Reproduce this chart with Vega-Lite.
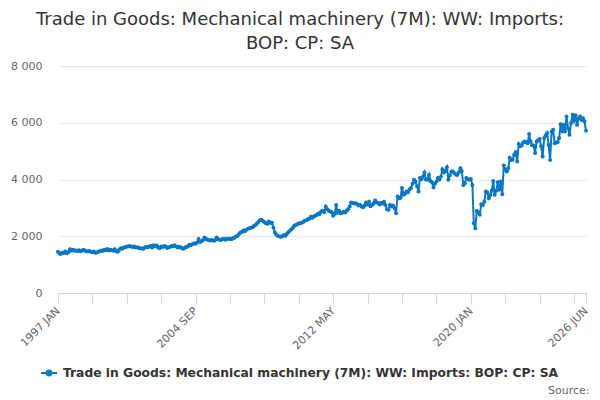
{
  "$schema": "https://vega.github.io/schema/vega-lite/v6.json",
  "description": "Trade in Goods: Mechanical machinery (7M): WW: Imports: BOP: CP: SA, monthly",
  "autosize": {"type": "none"},
  "width": 528,
  "height": 227,
  "padding": {"left": 58, "top": 66, "right": 14, "bottom": 107},
  "background": "#ffffff",
  "config": {
    "font": "DejaVu Sans",
    "view": {"stroke": null}
  },
  "title": {
    "text": ["Trade in Goods: Mechanical machinery (7M): WW: Imports:", "BOP: CP: SA"],
    "fontSize": 18,
    "fontWeight": "normal",
    "color": "#333333",
    "lineHeight": 24,
    "anchor": "middle",
    "frame": "group",
    "dx": -22,
    "offset": 7
  },
  "data": {
    "values": [
      {"d": "1997-01", "v": 1450}, {"d": "1997-02", "v": 1390}, {"d": "1997-03", "v": 1380}, {"d": "1997-04", "v": 1430},
      {"d": "1997-05", "v": 1410}, {"d": "1997-06", "v": 1460}, {"d": "1997-07", "v": 1400}, {"d": "1997-08", "v": 1440},
      {"d": "1997-09", "v": 1540}, {"d": "1997-10", "v": 1500}, {"d": "1997-11", "v": 1520}, {"d": "1997-12", "v": 1490},
      {"d": "1998-01", "v": 1500}, {"d": "1998-02", "v": 1480}, {"d": "1998-03", "v": 1510}, {"d": "1998-04", "v": 1470},
      {"d": "1998-05", "v": 1490}, {"d": "1998-06", "v": 1520}, {"d": "1998-07", "v": 1500}, {"d": "1998-08", "v": 1470},
      {"d": "1998-09", "v": 1460}, {"d": "1998-10", "v": 1480}, {"d": "1998-11", "v": 1450}, {"d": "1998-12", "v": 1440},
      {"d": "1999-01", "v": 1460}, {"d": "1999-02", "v": 1420}, {"d": "1999-03", "v": 1430}, {"d": "1999-04", "v": 1450},
      {"d": "1999-05", "v": 1470}, {"d": "1999-06", "v": 1500}, {"d": "1999-07", "v": 1480}, {"d": "1999-08", "v": 1520},
      {"d": "1999-09", "v": 1510}, {"d": "1999-10", "v": 1550}, {"d": "1999-11", "v": 1500}, {"d": "1999-12", "v": 1520},
      {"d": "2000-01", "v": 1510}, {"d": "2000-02", "v": 1490}, {"d": "2000-03", "v": 1540}, {"d": "2000-04", "v": 1470},
      {"d": "2000-05", "v": 1450}, {"d": "2000-06", "v": 1520}, {"d": "2000-07", "v": 1580}, {"d": "2000-08", "v": 1560},
      {"d": "2000-09", "v": 1600}, {"d": "2000-10", "v": 1610}, {"d": "2000-11", "v": 1630}, {"d": "2000-12", "v": 1650},
      {"d": "2001-01", "v": 1650}, {"d": "2001-02", "v": 1640}, {"d": "2001-03", "v": 1620}, {"d": "2001-04", "v": 1640},
      {"d": "2001-05", "v": 1600}, {"d": "2001-06", "v": 1610}, {"d": "2001-07", "v": 1590}, {"d": "2001-08", "v": 1580},
      {"d": "2001-09", "v": 1570}, {"d": "2001-10", "v": 1560}, {"d": "2001-11", "v": 1600}, {"d": "2001-12", "v": 1620},
      {"d": "2002-01", "v": 1610}, {"d": "2002-02", "v": 1640}, {"d": "2002-03", "v": 1660}, {"d": "2002-04", "v": 1600},
      {"d": "2002-05", "v": 1680}, {"d": "2002-06", "v": 1650}, {"d": "2002-07", "v": 1670}, {"d": "2002-08", "v": 1600},
      {"d": "2002-09", "v": 1580}, {"d": "2002-10", "v": 1640}, {"d": "2002-11", "v": 1620}, {"d": "2002-12", "v": 1660},
      {"d": "2003-01", "v": 1640}, {"d": "2003-02", "v": 1590}, {"d": "2003-03", "v": 1610}, {"d": "2003-04", "v": 1620},
      {"d": "2003-05", "v": 1660}, {"d": "2003-06", "v": 1650}, {"d": "2003-07", "v": 1680}, {"d": "2003-08", "v": 1640},
      {"d": "2003-09", "v": 1600}, {"d": "2003-10", "v": 1630}, {"d": "2003-11", "v": 1600}, {"d": "2003-12", "v": 1580},
      {"d": "2004-01", "v": 1560}, {"d": "2004-02", "v": 1600}, {"d": "2004-03", "v": 1620}, {"d": "2004-04", "v": 1660},
      {"d": "2004-05", "v": 1700}, {"d": "2004-06", "v": 1690}, {"d": "2004-07", "v": 1720}, {"d": "2004-08", "v": 1750},
      {"d": "2004-09", "v": 1740}, {"d": "2004-10", "v": 1780}, {"d": "2004-11", "v": 1900}, {"d": "2004-12", "v": 1800},
      {"d": "2005-01", "v": 1820}, {"d": "2005-02", "v": 1870}, {"d": "2005-03", "v": 1960}, {"d": "2005-04", "v": 1900},
      {"d": "2005-05", "v": 1880}, {"d": "2005-06", "v": 1860}, {"d": "2005-07", "v": 1850}, {"d": "2005-08", "v": 1870},
      {"d": "2005-09", "v": 1840}, {"d": "2005-10", "v": 1860}, {"d": "2005-11", "v": 1960}, {"d": "2005-12", "v": 1900},
      {"d": "2006-01", "v": 1880}, {"d": "2006-02", "v": 1870}, {"d": "2006-03", "v": 1900}, {"d": "2006-04", "v": 1910},
      {"d": "2006-05", "v": 1880}, {"d": "2006-06", "v": 1900}, {"d": "2006-07", "v": 1920}, {"d": "2006-08", "v": 1900},
      {"d": "2006-09", "v": 1890}, {"d": "2006-10", "v": 1940}, {"d": "2006-11", "v": 1950}, {"d": "2006-12", "v": 1990},
      {"d": "2007-01", "v": 2010}, {"d": "2007-02", "v": 2080}, {"d": "2007-03", "v": 2130}, {"d": "2007-04", "v": 2150},
      {"d": "2007-05", "v": 2200}, {"d": "2007-06", "v": 2180}, {"d": "2007-07", "v": 2230}, {"d": "2007-08", "v": 2260},
      {"d": "2007-09", "v": 2280}, {"d": "2007-10", "v": 2300}, {"d": "2007-11", "v": 2320}, {"d": "2007-12", "v": 2360},
      {"d": "2008-01", "v": 2400}, {"d": "2008-02", "v": 2450}, {"d": "2008-03", "v": 2500}, {"d": "2008-04", "v": 2560},
      {"d": "2008-05", "v": 2580}, {"d": "2008-06", "v": 2540}, {"d": "2008-07", "v": 2500}, {"d": "2008-08", "v": 2460},
      {"d": "2008-09", "v": 2440}, {"d": "2008-10", "v": 2520}, {"d": "2008-11", "v": 2470}, {"d": "2008-12", "v": 2480},
      {"d": "2009-01", "v": 2300}, {"d": "2009-02", "v": 2130}, {"d": "2009-03", "v": 2050}, {"d": "2009-04", "v": 2010},
      {"d": "2009-05", "v": 1990}, {"d": "2009-06", "v": 1980}, {"d": "2009-07", "v": 2000}, {"d": "2009-08", "v": 2040},
      {"d": "2009-09", "v": 2020}, {"d": "2009-10", "v": 2080}, {"d": "2009-11", "v": 2150}, {"d": "2009-12", "v": 2190},
      {"d": "2010-01", "v": 2250}, {"d": "2010-02", "v": 2300}, {"d": "2010-03", "v": 2370}, {"d": "2010-04", "v": 2400},
      {"d": "2010-05", "v": 2420}, {"d": "2010-06", "v": 2450}, {"d": "2010-07", "v": 2460}, {"d": "2010-08", "v": 2480},
      {"d": "2010-09", "v": 2500}, {"d": "2010-10", "v": 2550}, {"d": "2010-11", "v": 2560}, {"d": "2010-12", "v": 2600},
      {"d": "2011-01", "v": 2620}, {"d": "2011-02", "v": 2690}, {"d": "2011-03", "v": 2650}, {"d": "2011-04", "v": 2700},
      {"d": "2011-05", "v": 2720}, {"d": "2011-06", "v": 2750}, {"d": "2011-07", "v": 2800}, {"d": "2011-08", "v": 2780},
      {"d": "2011-09", "v": 2870}, {"d": "2011-10", "v": 2900}, {"d": "2011-11", "v": 2850}, {"d": "2011-12", "v": 3050},
      {"d": "2012-01", "v": 2950}, {"d": "2012-02", "v": 2900}, {"d": "2012-03", "v": 2870}, {"d": "2012-04", "v": 2850},
      {"d": "2012-05", "v": 2720}, {"d": "2012-06", "v": 2780}, {"d": "2012-07", "v": 3100}, {"d": "2012-08", "v": 2830},
      {"d": "2012-09", "v": 2900}, {"d": "2012-10", "v": 2810}, {"d": "2012-11", "v": 2830}, {"d": "2012-12", "v": 2860},
      {"d": "2013-01", "v": 2840}, {"d": "2013-02", "v": 2900}, {"d": "2013-03", "v": 2950}, {"d": "2013-04", "v": 3050},
      {"d": "2013-05", "v": 3190}, {"d": "2013-06", "v": 3170}, {"d": "2013-07", "v": 3150}, {"d": "2013-08", "v": 3160},
      {"d": "2013-09", "v": 3140}, {"d": "2013-10", "v": 3080}, {"d": "2013-11", "v": 3100}, {"d": "2013-12", "v": 3050},
      {"d": "2014-01", "v": 3020}, {"d": "2014-02", "v": 3080}, {"d": "2014-03", "v": 3190}, {"d": "2014-04", "v": 3120},
      {"d": "2014-05", "v": 3220}, {"d": "2014-06", "v": 3060}, {"d": "2014-07", "v": 3100}, {"d": "2014-08", "v": 3150},
      {"d": "2014-09", "v": 3260}, {"d": "2014-10", "v": 3200}, {"d": "2014-11", "v": 3170}, {"d": "2014-12", "v": 3120},
      {"d": "2015-01", "v": 3180}, {"d": "2015-02", "v": 3150}, {"d": "2015-03", "v": 3220}, {"d": "2015-04", "v": 3100},
      {"d": "2015-05", "v": 2950}, {"d": "2015-06", "v": 2930}, {"d": "2015-07", "v": 3100}, {"d": "2015-08", "v": 3050},
      {"d": "2015-09", "v": 3080}, {"d": "2015-10", "v": 3000}, {"d": "2015-11", "v": 2810}, {"d": "2015-12", "v": 3400},
      {"d": "2016-01", "v": 3340}, {"d": "2016-02", "v": 3360}, {"d": "2016-03", "v": 3700}, {"d": "2016-04", "v": 3460},
      {"d": "2016-05", "v": 3500}, {"d": "2016-06", "v": 3580}, {"d": "2016-07", "v": 3550}, {"d": "2016-08", "v": 3650},
      {"d": "2016-09", "v": 3700}, {"d": "2016-10", "v": 3850}, {"d": "2016-11", "v": 3990}, {"d": "2016-12", "v": 3920},
      {"d": "2017-01", "v": 3760}, {"d": "2017-02", "v": 3580}, {"d": "2017-03", "v": 4050}, {"d": "2017-04", "v": 4010},
      {"d": "2017-05", "v": 4100}, {"d": "2017-06", "v": 4250}, {"d": "2017-07", "v": 4000}, {"d": "2017-08", "v": 3990},
      {"d": "2017-09", "v": 4170}, {"d": "2017-10", "v": 3950}, {"d": "2017-11", "v": 3900}, {"d": "2017-12", "v": 3730},
      {"d": "2018-01", "v": 3850}, {"d": "2018-02", "v": 3930}, {"d": "2018-03", "v": 4050}, {"d": "2018-04", "v": 4000},
      {"d": "2018-05", "v": 4100}, {"d": "2018-06", "v": 4360}, {"d": "2018-07", "v": 4250}, {"d": "2018-08", "v": 4300},
      {"d": "2018-09", "v": 4430}, {"d": "2018-10", "v": 3990}, {"d": "2018-11", "v": 4150}, {"d": "2018-12", "v": 4280},
      {"d": "2019-01", "v": 4280}, {"d": "2019-02", "v": 4220}, {"d": "2019-03", "v": 4180}, {"d": "2019-04", "v": 4160},
      {"d": "2019-05", "v": 4250}, {"d": "2019-06", "v": 4400}, {"d": "2019-07", "v": 4300}, {"d": "2019-08", "v": 3810},
      {"d": "2019-09", "v": 3870}, {"d": "2019-10", "v": 4050}, {"d": "2019-11", "v": 4010}, {"d": "2019-12", "v": 3990},
      {"d": "2020-01", "v": 4020}, {"d": "2020-02", "v": 3810}, {"d": "2020-03", "v": 2460}, {"d": "2020-04", "v": 2280},
      {"d": "2020-05", "v": 2890}, {"d": "2020-06", "v": 2850}, {"d": "2020-07", "v": 2770}, {"d": "2020-08", "v": 3130},
      {"d": "2020-09", "v": 3100}, {"d": "2020-10", "v": 3220}, {"d": "2020-11", "v": 3580}, {"d": "2020-12", "v": 3540},
      {"d": "2021-01", "v": 3340}, {"d": "2021-02", "v": 3450}, {"d": "2021-03", "v": 3600}, {"d": "2021-04", "v": 3950},
      {"d": "2021-05", "v": 3460}, {"d": "2021-06", "v": 3600}, {"d": "2021-07", "v": 3900}, {"d": "2021-08", "v": 3640},
      {"d": "2021-09", "v": 3930}, {"d": "2021-10", "v": 3480}, {"d": "2021-11", "v": 4490}, {"d": "2021-12", "v": 4350},
      {"d": "2022-01", "v": 4280}, {"d": "2022-02", "v": 4400}, {"d": "2022-03", "v": 4770}, {"d": "2022-04", "v": 4690},
      {"d": "2022-05", "v": 4700}, {"d": "2022-06", "v": 4870}, {"d": "2022-07", "v": 4960}, {"d": "2022-08", "v": 4630},
      {"d": "2022-09", "v": 5250}, {"d": "2022-10", "v": 5170}, {"d": "2022-11", "v": 5200}, {"d": "2022-12", "v": 5300},
      {"d": "2023-01", "v": 5340}, {"d": "2023-02", "v": 5310}, {"d": "2023-03", "v": 5280}, {"d": "2023-04", "v": 5600},
      {"d": "2023-05", "v": 5340}, {"d": "2023-06", "v": 5210}, {"d": "2023-07", "v": 5200}, {"d": "2023-08", "v": 4930},
      {"d": "2023-09", "v": 5340}, {"d": "2023-10", "v": 5380}, {"d": "2023-11", "v": 5430}, {"d": "2023-12", "v": 5170},
      {"d": "2024-01", "v": 4810}, {"d": "2024-02", "v": 5460}, {"d": "2024-03", "v": 5550}, {"d": "2024-04", "v": 5640},
      {"d": "2024-05", "v": 5220}, {"d": "2024-06", "v": 4690}, {"d": "2024-07", "v": 5690}, {"d": "2024-08", "v": 5750},
      {"d": "2024-09", "v": 5280}, {"d": "2024-10", "v": 5300}, {"d": "2024-11", "v": 5310}, {"d": "2024-12", "v": 5460},
      {"d": "2025-01", "v": 5950}, {"d": "2025-02", "v": 5690}, {"d": "2025-03", "v": 5930}, {"d": "2025-04", "v": 5690},
      {"d": "2025-05", "v": 6220}, {"d": "2025-06", "v": 5810}, {"d": "2025-07", "v": 5580}, {"d": "2025-08", "v": 5990},
      {"d": "2025-09", "v": 6280}, {"d": "2025-10", "v": 6070}, {"d": "2025-11", "v": 6260}, {"d": "2025-12", "v": 5930},
      {"d": "2026-01", "v": 6150}, {"d": "2026-02", "v": 6220}, {"d": "2026-03", "v": 6100}, {"d": "2026-04", "v": 6160},
      {"d": "2026-05", "v": 6050}, {"d": "2026-06", "v": 5720}
    ]
  },
  "mark": {
    "type": "line",
    "strokeWidth": 2,
    "point": {"filled": true, "size": 16}
  },
  "encoding": {
    "x": {
      "field": "d",
      "type": "temporal",
      "scale": {"type": "utc", "nice": false, "padding": 0},
      "axis": {
        "title": "Source:",
        "titleFontSize": 11,
        "titleFontWeight": "normal",
        "titleColor": "#666666",
        "titleAnchor": "end",
        "titleAlign": "right",
        "titleBaseline": "middle",
        "titleX": 531,
        "titleY": 97,
        "values": [
          {"year": 1997, "month": 1, "utc": true}, {"year": 1998, "month": 12, "utc": true},
          {"year": 2000, "month": 11, "utc": true}, {"year": 2002, "month": 10, "utc": true},
          {"year": 2004, "month": 9, "utc": true}, {"year": 2006, "month": 8, "utc": true},
          {"year": 2008, "month": 7, "utc": true}, {"year": 2010, "month": 6, "utc": true},
          {"year": 2012, "month": 5, "utc": true}, {"year": 2014, "month": 4, "utc": true},
          {"year": 2016, "month": 3, "utc": true}, {"year": 2018, "month": 2, "utc": true},
          {"year": 2020, "month": 1, "utc": true}, {"year": 2021, "month": 12, "utc": true},
          {"year": 2023, "month": 11, "utc": true}, {"year": 2025, "month": 10, "utc": true},
          {"year": 2026, "month": 6, "utc": true}
        ],
        "labelExpr": "indexof(['1997 JAN', '2004 SEP', '2012 MAY', '2020 JAN', '2026 JUN'], upper(utcFormat(datum.value, '%Y %b'))) >= 0 ? upper(utcFormat(datum.value, '%Y %b')) : ''",
        "labelAngle": -45,
        "labelAlign": "right",
        "labelBaseline": "middle",
        "labelFontSize": 11,
        "labelColor": "#666666",
        "labelPadding": 6,
        "labelOverlap": false,
        "labelBound": false,
        "labelFlush": false,
        "domainColor": "#ccd6eb",
        "tickColor": "#ccd6eb",
        "tickSize": 10,
        "grid": false
      }
    },
    "y": {
      "field": "v",
      "type": "quantitative",
      "scale": {"domain": [0, 8000], "nice": false},
      "axis": {
        "title": null,
        "values": [0, 2000, 4000, 6000, 8000],
        "labelExpr": "replace(format(datum.value, ','), ',', ' ')",
        "labelFontSize": 11,
        "labelColor": "#666666",
        "labelPadding": 16,
        "domain": false,
        "ticks": false,
        "gridColor": "#e6e6e6",
        "gridWidth": 1
      }
    },
    "color": {
      "datum": "Trade in Goods: Mechanical machinery (7M): WW: Imports: BOP: CP: SA",
      "scale": {"range": ["#0a77c2"]},
      "legend": {
        "title": null,
        "orient": "none",
        "legendX": -18,
        "legendY": 298,
        "symbolType": "M-1,0L1,0M-0.3,0A0.3,0.3 0 1,0 0.3,0A0.3,0.3 0 1,0 -0.3,0",
        "symbolSize": 256,
        "symbolStrokeWidth": 2,
        "labelFontSize": 12.3,
        "labelFontWeight": "bold",
        "labelColor": "#333333",
        "labelLimit": 0,
        "labelOffset": 5
      }
    }
  }
}
